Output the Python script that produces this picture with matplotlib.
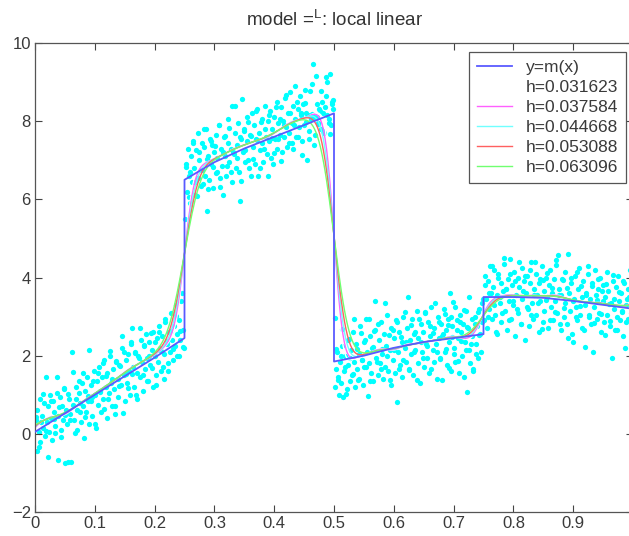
import numpy as np
import matplotlib.pyplot as plt

plt.rcParams['font.family'] = ['Liberation Sans', 'DejaVu Sans']
plt.rcParams['mathtext.default'] = 'regular'

# noisy samples, one block per piece of m(x)
x1 = [0.001, 0.003, 0.004, 0.006, 0.008, 0.009, 0.011, 0.013, 0.015, 0.016, 0.018, 0.020, 0.022, 0.023,
      0.025, 0.027, 0.029, 0.030, 0.032, 0.034, 0.036, 0.038, 0.039, 0.041, 0.043, 0.045, 0.047, 0.048,
      0.050, 0.052, 0.054, 0.055, 0.057, 0.059, 0.061, 0.062, 0.064, 0.066, 0.068, 0.070, 0.071, 0.073,
      0.075, 0.077, 0.078, 0.080, 0.082, 0.084, 0.086, 0.087, 0.089, 0.091, 0.093, 0.095, 0.096, 0.098,
      0.100, 0.102, 0.104, 0.105, 0.107, 0.109, 0.111, 0.112, 0.114, 0.116, 0.118, 0.120, 0.121, 0.123,
      0.125, 0.127, 0.129, 0.130, 0.132, 0.134, 0.136, 0.138, 0.139, 0.141, 0.143, 0.145, 0.146, 0.148,
      0.150, 0.152, 0.154, 0.155, 0.157, 0.159, 0.161, 0.162, 0.164, 0.166, 0.168, 0.170, 0.171, 0.173,
      0.175, 0.177, 0.179, 0.180, 0.182, 0.184, 0.186, 0.188, 0.189, 0.191, 0.193, 0.195, 0.197, 0.198,
      0.200, 0.202, 0.204, 0.206, 0.207, 0.209, 0.211, 0.213, 0.215, 0.216, 0.218, 0.220, 0.222, 0.224,
      0.225, 0.227, 0.229, 0.231, 0.232, 0.234, 0.236, 0.238, 0.240, 0.241, 0.243, 0.245, 0.247, 0.249,
      0.002, 0.007, 0.010, 0.014, 0.019, 0.021, 0.026, 0.031, 0.033, 0.037, 0.040, 0.044, 0.049, 0.051,
      0.056, 0.058, 0.063, 0.067, 0.069, 0.074, 0.076, 0.081, 0.083, 0.088, 0.090, 0.094, 0.097, 0.101,
      0.106, 0.108, 0.113, 0.115, 0.119, 0.122, 0.126, 0.128, 0.133, 0.135, 0.140, 0.142, 0.147, 0.149,
      0.153, 0.156, 0.160, 0.163, 0.167, 0.169, 0.174, 0.176, 0.181, 0.183, 0.187, 0.190, 0.194, 0.196,
      0.201, 0.203, 0.208, 0.210, 0.214, 0.217, 0.221, 0.223, 0.228, 0.230, 0.235, 0.237, 0.242, 0.244, 0.248]
y1 = [0.35, -0.45, 0.60, 0.05, 0.90, -0.20, 0.45, 0.15, 0.80, -0.05, 1.46, 0.30, 0.70, 0.05,
      1.00, 0.40, -0.15, 0.85, 0.55, 0.20, 1.05, -0.67, 0.45, 0.95, 0.10, 0.70, 0.35, 1.15,
      -0.75, 0.60, 0.25, -0.72, 0.90, 0.50, -0.72, 2.10, 0.75, 0.35, 1.20, 0.60, 0.10, 1.05,
      0.80, 0.30, 1.30, 0.70, -0.10, 1.10, 0.55, 1.45, 0.85, 0.25, 1.25, 0.95, 0.45, 1.60,
      1.00, 0.15, 1.35, 0.75, 1.70, 1.10, 0.55, 1.45, 0.90, 1.90, 1.20, 0.40, 1.55, 1.05,
      2.00, 1.30, 0.70, 1.65, 1.15, 0.50, 1.85, 1.40, 0.95, 1.75, 1.25, 2.20, 2.50, 1.50,
      0.85, 1.90, 1.30, 2.05, 1.60, 1.00, 2.30, 2.70, 1.70, 1.20, 2.10, 1.55, 0.90, 2.00,
      1.45, 2.40, 1.85, 1.10, 2.25, 1.65, 2.55, 1.95, 1.35, 2.35, 1.75, 2.15, 1.20, 2.60,
      2.00, 1.50, 2.45, 1.85, 2.75, 2.20, 1.60, 2.50, 2.05, 1.40, 2.85, 2.30, 1.80, 2.60,
      2.10, 3.10, 2.40, 1.90, 2.75, 2.25, 3.30, 2.55, 2.00, 2.90, 2.40, 3.60, 2.65, 2.20,
      0.42, -0.33, 0.29, 1.03, 0.08, -0.60, 0.84, 0.39, 0.01, 1.45, 0.68, -0.09, 1.16, 0.48,
      1.03, 0.35, 1.59, 0.03, 0.90, 1.35, 0.56, 1.56, 0.43, 0.98, 2.15, 0.83, 1.36, 0.25,
      1.55, 1.07, 1.81, 0.63, 1.47, 0.90, 2.13, 1.40, 0.70, 1.87, 1.22, 1.73, 0.53, 2.10,
      1.54, 1.17, 2.35, 1.53, 2.07, 0.99, 1.94, 2.70, 1.50, 2.27, 1.36, 1.99, 2.57, 1.69,
      2.34, 1.26, 2.61, 2.12, 1.71, 2.94, 2.38, 1.60, 2.64, 2.16, 3.01, 1.98, 2.62, 3.39, 2.23]

x2 = [0.251, 0.252, 0.254, 0.256, 0.257, 0.259, 0.261, 0.263, 0.264, 0.266, 0.268, 0.270, 0.272, 0.273,
      0.275, 0.277, 0.279, 0.280, 0.282, 0.284, 0.286, 0.287, 0.289, 0.291, 0.293, 0.295, 0.296, 0.298,
      0.300, 0.302, 0.304, 0.305, 0.307, 0.309, 0.311, 0.313, 0.315, 0.316, 0.318, 0.320, 0.322, 0.323,
      0.325, 0.327, 0.329, 0.330, 0.332, 0.334, 0.336, 0.338, 0.340, 0.341, 0.343, 0.345, 0.346, 0.348,
      0.350, 0.352, 0.354, 0.355, 0.357, 0.359, 0.361, 0.363, 0.364, 0.366, 0.368, 0.370, 0.372, 0.373,
      0.375, 0.377, 0.379, 0.380, 0.382, 0.384, 0.386, 0.388, 0.389, 0.391, 0.393, 0.395, 0.397, 0.398,
      0.400, 0.402, 0.404, 0.405, 0.407, 0.409, 0.411, 0.413, 0.414, 0.416, 0.418, 0.420, 0.421, 0.423,
      0.425, 0.427, 0.429, 0.430, 0.432, 0.434, 0.435, 0.437, 0.439, 0.441, 0.443, 0.445, 0.446, 0.448,
      0.450, 0.452, 0.454, 0.455, 0.457, 0.459, 0.461, 0.463, 0.465, 0.466, 0.468, 0.470, 0.472, 0.473,
      0.475, 0.477, 0.479, 0.480, 0.482, 0.484, 0.486, 0.488, 0.489, 0.491, 0.493, 0.495, 0.496, 0.498, 0.499,
      0.253, 0.258, 0.260, 0.265, 0.267, 0.271, 0.274, 0.278, 0.281, 0.283, 0.288, 0.290, 0.294, 0.297,
      0.301, 0.303, 0.308, 0.310, 0.314, 0.317, 0.321, 0.324, 0.328, 0.331, 0.335, 0.337, 0.342, 0.344,
      0.349, 0.351, 0.356, 0.358, 0.362, 0.365, 0.369, 0.371, 0.376, 0.378, 0.383, 0.385, 0.390, 0.392,
      0.396, 0.399, 0.403, 0.406, 0.410, 0.412, 0.417, 0.419, 0.424, 0.426, 0.431, 0.433, 0.438, 0.440,
      0.444, 0.447, 0.451, 0.453, 0.458, 0.460, 0.464, 0.467, 0.471, 0.474, 0.478, 0.481, 0.485, 0.487,
      0.492, 0.494, 0.497]
y2 = [5.50, 6.90, 6.20, 7.30, 6.60, 5.90, 7.10, 6.45, 7.50, 6.80, 6.10, 7.25, 6.55, 7.70,
      7.00, 6.35, 7.45, 6.75, 7.35, 6.60, 7.80, 5.70, 7.10, 6.50, 7.55, 6.90, 7.40, 6.30,
      7.20, 7.65, 6.70, 7.05, 7.90, 6.55, 7.30, 6.85, 6.10, 7.60, 7.10, 6.60, 7.45, 8.05,
      6.95, 7.30, 6.45, 8.38, 7.15, 7.70, 6.80, 7.40, 7.95, 6.70, 5.95, 7.55, 8.56, 7.20,
      7.80, 6.95, 7.50, 8.10, 7.00, 7.65, 6.60, 8.20, 7.35, 7.90, 6.90, 7.55, 8.30, 6.60,
      7.70, 7.25, 8.05, 7.45, 6.95, 8.40, 7.60, 7.15, 8.00, 7.50, 8.25, 7.05, 7.80, 6.90,
      8.10, 7.55, 8.50, 7.30, 7.95, 7.65, 8.35, 7.20, 8.00, 7.60, 8.60, 7.85, 7.35, 8.20,
      7.70, 8.75, 7.95, 7.45, 8.40, 8.05, 8.90, 7.60, 8.30, 7.85, 8.65, 8.15, 7.50, 8.45,
      7.90, 8.80, 8.20, 7.00, 8.15, 7.75, 8.05, 8.95, 9.46, 8.10, 7.65, 9.15, 8.10, 7.95,
      8.30, 8.25, 7.80, 8.50, 8.20, 7.70, 8.65, 8.15, 9.00, 8.05, 9.20, 7.90, 8.45, 8.30, 8.55,
      6.83, 6.07, 6.69, 7.44, 6.45, 6.09, 7.22, 6.75, 6.38, 7.80, 7.04, 6.26, 7.50, 6.82,
      7.36, 6.67, 7.91, 6.32, 7.20, 7.62, 6.85, 7.82, 6.70, 7.22, 8.40, 7.06, 7.59, 6.46,
      7.74, 7.26, 7.99, 6.80, 7.62, 7.04, 8.26, 7.53, 6.81, 7.97, 7.30, 7.81, 6.59, 8.15,
      7.58, 7.19, 8.37, 7.54, 8.06, 6.97, 7.90, 8.66, 7.44, 8.21, 7.29, 7.90, 8.48, 7.59,
      8.21, 7.13, 8.46, 7.97, 7.55, 8.76, 8.18, 7.40, 8.43, 7.94, 8.77, 7.74, 8.36, 9.12,
      7.95, 7.66, 8.48]

x3 = [0.501, 0.502, 0.503, 0.505, 0.507, 0.508, 0.510, 0.512, 0.514, 0.515, 0.517, 0.519, 0.521, 0.523,
      0.524, 0.526, 0.528, 0.530, 0.532, 0.533, 0.535, 0.537, 0.539, 0.541, 0.542, 0.544, 0.546, 0.548,
      0.550, 0.551, 0.553, 0.555, 0.557, 0.559, 0.560, 0.562, 0.564, 0.566, 0.568, 0.569, 0.571, 0.573,
      0.575, 0.577, 0.578, 0.580, 0.582, 0.584, 0.586, 0.587, 0.589, 0.591, 0.593, 0.595, 0.596, 0.598,
      0.600, 0.602, 0.604, 0.605, 0.607, 0.609, 0.611, 0.613, 0.614, 0.616, 0.618, 0.620, 0.622, 0.624,
      0.625, 0.627, 0.629, 0.631, 0.632, 0.634, 0.636, 0.638, 0.640, 0.641, 0.643, 0.645, 0.647, 0.649,
      0.650, 0.652, 0.654, 0.656, 0.658, 0.659, 0.661, 0.663, 0.665, 0.667, 0.668, 0.670, 0.672, 0.674,
      0.676, 0.677, 0.679, 0.680, 0.682, 0.684, 0.686, 0.688, 0.689, 0.691, 0.693, 0.694, 0.696, 0.698,
      0.699, 0.701, 0.703, 0.705, 0.707, 0.709, 0.710, 0.712, 0.714, 0.716, 0.718, 0.719, 0.721, 0.722,
      0.724, 0.726, 0.728, 0.730, 0.731, 0.733, 0.735, 0.737, 0.739, 0.740, 0.742, 0.744, 0.746, 0.748, 0.749,
      0.504, 0.506, 0.511, 0.513, 0.518, 0.520, 0.525, 0.527, 0.531, 0.534, 0.538, 0.540, 0.545, 0.547,
      0.552, 0.554, 0.558, 0.561, 0.565, 0.567, 0.572, 0.574, 0.579, 0.581, 0.585, 0.588, 0.592, 0.594,
      0.599, 0.601, 0.606, 0.608, 0.612, 0.615, 0.619, 0.621, 0.626, 0.628, 0.633, 0.635, 0.639, 0.642,
      0.646, 0.648, 0.653, 0.655, 0.660, 0.662, 0.666, 0.669, 0.673, 0.675, 0.678, 0.681, 0.685, 0.687,
      0.690, 0.692, 0.695, 0.697, 0.700, 0.702, 0.706, 0.708, 0.711, 0.713, 0.717, 0.720, 0.723, 0.725,
      0.729, 0.732, 0.736, 0.738, 0.741, 0.743, 0.747]
y3 = [1.20, 2.97, 1.65, 2.10, 1.45, 1.00, 1.85, 1.30, 2.25, 0.95, 1.60, 2.00, 1.15, 2.40,
      1.75, 1.35, 2.15, 1.50, 2.60, 1.85, 1.20, 2.30, 1.65, 2.05, 1.40, 2.75, 1.90, 1.25,
      2.35, 1.70, 2.95, 2.10, 0.97, 1.80, 2.50, 1.55, 2.20, 1.35, 2.65, 3.40, 1.95, 1.50,
      2.40, 1.80, 2.85, 2.05, 1.40, 2.55, 1.70, 2.25, 3.05, 1.60, 2.15, 1.25, 2.70, 1.90,
      2.45, 1.55, 2.90, 0.82, 2.10, 2.60, 1.75, 2.35, 1.45, 3.00, 2.20, 1.85, 2.70, 3.50,
      1.65, 2.40, 2.05, 2.95, 1.50, 2.55, 2.15, 3.15, 1.80, 2.45, 1.30, 2.80, 2.10, 2.60,
      1.70, 3.10, 2.30, 1.95, 2.85, 1.55, 2.50, 3.25, 2.15, 1.85, 2.70, 2.30, 1.40, 3.00,
      2.45, 1.95, 2.80, 1.38, 2.55, 3.20, 2.10, 2.65, 1.75, 2.95, 2.35, 3.60, 1.60, 2.75,
      3.38, 2.20, 1.85, 2.90, 2.45, 1.55, 3.05, 2.60, 2.00, 2.80, 1.45, 2.35, 3.15, 1.08,
      2.70, 2.15, 1.80, 2.95, 2.50, 1.65, 3.00, 2.30, 2.75, 1.95, 3.20, 2.55, 2.10, 2.85, 3.45,
      2.16, 1.37, 1.98, 2.69, 1.70, 1.01, 2.42, 1.93, 1.54, 2.95, 2.16, 1.37, 2.58, 1.89,
      2.41, 1.72, 2.93, 1.34, 2.21, 2.62, 1.84, 2.80, 1.67, 2.17, 3.34, 2.00, 2.52, 1.38,
      2.65, 2.15, 2.87, 1.67, 2.49, 1.90, 3.11, 2.36, 1.63, 2.78, 2.10, 2.60, 1.37, 2.93,
      2.34, 1.94, 3.11, 2.26, 2.77, 1.67, 2.58, 3.34, 2.10, 2.85, 1.91, 2.51, 3.07, 2.17,
      2.78, 1.68, 2.99, 2.49, 2.05, 3.25, 2.66, 1.86, 2.87, 2.37, 3.18, 2.14, 2.74, 3.50,
      2.31, 1.61, 2.82, 2.03, 3.13, 2.54, 3.34]

x4 = [0.751, 0.752, 0.754, 0.756, 0.758, 0.759, 0.761, 0.763, 0.765, 0.766, 0.768, 0.770, 0.772, 0.773,
      0.775, 0.777, 0.779, 0.780, 0.782, 0.784, 0.786, 0.788, 0.789, 0.791, 0.793, 0.794, 0.796, 0.798,
      0.800, 0.801, 0.803, 0.805, 0.807, 0.808, 0.810, 0.812, 0.814, 0.815, 0.817, 0.819, 0.821, 0.823,
      0.824, 0.826, 0.828, 0.830, 0.831, 0.833, 0.835, 0.837, 0.838, 0.840, 0.842, 0.844, 0.845, 0.847,
      0.849, 0.851, 0.852, 0.854, 0.856, 0.858, 0.859, 0.861, 0.863, 0.865, 0.866, 0.868, 0.870, 0.872,
      0.873, 0.875, 0.877, 0.879, 0.880, 0.882, 0.884, 0.886, 0.887, 0.889, 0.891, 0.893, 0.894, 0.896,
      0.898, 0.900, 0.901, 0.903, 0.905, 0.907, 0.908, 0.910, 0.912, 0.914, 0.915, 0.917, 0.919, 0.920,
      0.922, 0.924, 0.926, 0.928, 0.929, 0.931, 0.933, 0.935, 0.936, 0.938, 0.940, 0.942, 0.943, 0.945,
      0.947, 0.949, 0.950, 0.952, 0.954, 0.956, 0.957, 0.959, 0.961, 0.963, 0.965, 0.966, 0.968, 0.970,
      0.971, 0.973, 0.975, 0.977, 0.978, 0.980, 0.982, 0.984, 0.985, 0.987, 0.989, 0.991, 0.992, 0.994,
      0.996, 0.998,
      0.753, 0.757, 0.760, 0.764, 0.767, 0.771, 0.774, 0.778, 0.781, 0.785, 0.787, 0.792, 0.795, 0.799,
      0.802, 0.806, 0.809, 0.813, 0.816, 0.820, 0.822, 0.827, 0.829, 0.834, 0.836, 0.841, 0.843, 0.848,
      0.850, 0.855, 0.857, 0.862, 0.864, 0.869, 0.871, 0.876, 0.878, 0.883, 0.885, 0.890, 0.892, 0.897,
      0.899, 0.904, 0.906, 0.911, 0.913, 0.918, 0.921, 0.925, 0.927, 0.932, 0.934, 0.939, 0.941, 0.946,
      0.948, 0.953, 0.955, 0.960, 0.962, 0.967, 0.969, 0.974, 0.976, 0.981, 0.983, 0.988, 0.990, 0.995,
      0.997, 0.999]
y4 = [2.90, 4.05, 3.45, 2.70, 3.90, 3.20, 4.30, 3.60, 2.95, 3.75, 4.20, 3.05, 3.55, 2.55,
      4.10, 3.35, 3.85, 2.85, 3.65, 4.35, 3.15, 3.70, 2.65, 3.95, 3.40, 4.48, 2.95, 3.80,
      3.30, 4.15, 2.50, 3.55, 4.00, 3.10, 3.75, 2.80, 4.25, 3.45, 3.90, 2.40, 3.60, 4.05,
      3.20, 2.75, 3.85, 4.40, 3.35, 2.95, 3.70, 4.10, 3.05, 3.55, 2.60, 3.95, 3.40, 4.30,
      2.85, 3.65, 3.15, 4.00, 3.50, 2.70, 3.80, 4.20, 3.25, 3.60, 2.90, 3.95, 3.40, 4.45,
      3.10, 4.58, 3.70, 2.65, 3.55, 3.95, 3.00, 4.15, 3.35, 2.80, 4.60, 3.60, 3.15, 3.85,
      2.55, 2.35, 3.45, 4.05, 3.25, 2.90, 3.70, 4.25, 3.05, 3.50, 2.70, 3.90, 3.30, 2.22,
      3.60, 4.10, 3.00, 3.45, 2.80, 3.85, 2.10, 3.25, 4.20, 3.55, 2.95, 3.70, 3.10, 4.00,
      2.60, 3.40, 3.80, 2.85, 3.50, 4.15, 3.05, 3.65, 2.75, 3.35, 1.95, 3.90, 3.20, 2.65,
      3.75, 3.00, 4.05, 3.40, 2.90, 3.60, 3.15, 2.50, 3.85, 2.20, 3.30, 3.70, 2.95, 3.50,
      3.10, 3.95,
      3.80, 3.00, 3.60, 4.30, 3.30, 2.60, 4.00, 3.50, 3.10, 4.50, 3.70, 2.90, 4.10, 3.40,
      3.90, 3.20, 4.40, 2.80, 3.65, 4.05, 3.25, 4.20, 3.05, 3.55, 4.40, 3.35, 3.85, 2.68,
      3.93, 3.42, 4.12, 2.92, 3.72, 3.12, 4.31, 3.56, 2.80, 3.93, 3.23, 3.72, 2.46, 4.00,
      3.40, 2.99, 4.14, 3.28, 3.77, 2.66, 3.56, 4.30, 3.05, 3.79, 2.83, 3.42, 3.97, 3.06,
      3.65, 2.54, 3.84, 3.33, 2.88, 4.07, 3.46, 2.65, 3.64, 3.13, 3.92, 2.86, 3.45, 4.20,
      3.00, 2.70]

# regression function y = m(x), four pieces with jumps at 0.25, 0.5, 0.75
m_x = [0.0, 0.1, 0.2, 0.25, 0.25, 0.3, 0.35, 0.4, 0.45, 0.5,
       0.5, 0.55, 0.6, 0.65, 0.7, 0.75, 0.75, 0.8, 0.85, 0.9, 0.95, 1.0]
m_y = [0.05, 1.0, 1.95, 2.45, 6.5, 6.95, 7.3, 7.6, 7.9, 8.2,
       1.85, 2.0, 2.2, 2.35, 2.45, 2.55, 3.5, 3.5, 3.48, 3.4, 3.3, 3.2]

bandwidths = [0.031623, 0.037584, 0.044668, 0.053088, 0.063096]
curve_colors = ['white', '#ff60ff', '#70ffff', '#ff6060', '#70ff70']

x = np.array(x1 + x2 + x3 + x4)
y = np.array(y1 + y2 + y3 + y4)


def local_linear(xs, ys, grid, h):
    out = []
    for g in grid:
        d = xs - g
        w = np.exp(-0.5 * (d / (h / 3)) ** 2)
        s0, s1, s2 = w.sum(), (w * d).sum(), (w * d * d).sum()
        t0, t1 = (w * ys).sum(), (w * d * ys).sum()
        out.append((s2 * t0 - s1 * t1) / (s0 * s2 - s1 * s1))
    return np.array(out)


grid = np.linspace(0, 1, 401)

fig = plt.figure(figsize=(6.29, 5.36), dpi=100)
ax = fig.add_axes([35 / 629, 24 / 536, 598 / 629, 469 / 536])

ax.plot(x, y, 'o', color='cyan', ms=3.8, mec='none', zorder=1)
ax.plot(m_x, m_y, color='#5a5aff', lw=1.3, label='y=m(x)', zorder=3)
for h, c in zip(bandwidths, curve_colors):
    ax.plot(grid, local_linear(x, y, grid, h), color=c, lw=1.0,
            label='h=%.6f' % h, zorder=2)

ax.set_xlim(0, 1)
ax.set_ylim(-2, 10)
ax.set_xticks([0, 0.1, 0.2, 0.3, 0.4, 0.5, 0.6, 0.7, 0.8, 0.9])
ax.set_xticklabels(['0', '0.1', '0.2', '0.3', '0.4', '0.5', '0.6', '0.7', '0.8', '0.9'])
ax.set_yticks([-2, 0, 2, 4, 6, 8, 10])
ax.tick_params(direction='in', length=5, top=True, right=True, labelsize=12,
               color='#444444', labelcolor='#3a3a3a', pad=3)
for sp in ax.spines.values():
    sp.set_color('#555555')
    sp.set_linewidth(0.9)

ax.set_title('model =$^{L}$: local linear', fontsize=13.5, color='#333333', pad=12)

leg = ax.legend(loc='upper right', bbox_to_anchor=(0.988, 0.981), borderaxespad=0,
                fontsize=12.5, handlelength=2.0, handletextpad=0.8, borderpad=0.45,
                labelspacing=0.28, fancybox=False, edgecolor='#555555', framealpha=1)
leg.get_frame().set_linewidth(0.9)
for t in leg.get_texts():
    t.set_color('#3a3a3a')

fig.savefig('out.png', dpi=100)
